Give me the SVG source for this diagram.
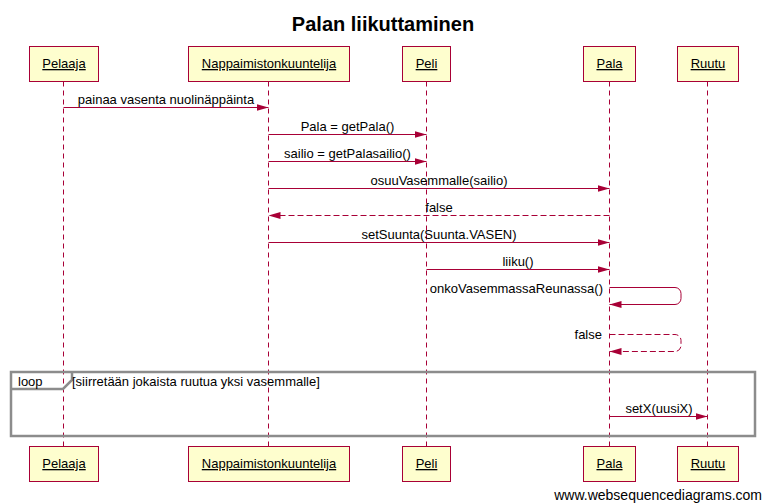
<svg xmlns="http://www.w3.org/2000/svg" width="764" height="503" viewBox="0 0 764 503">
<style>
text{font-family:"Liberation Sans",Arial,sans-serif;font-size:13px;fill:#000}
.title{font-size:20px;font-weight:bold}
.box{fill:#FEFECE;stroke:#A80036;stroke-width:1}
.pname{text-decoration:underline;text-anchor:middle}
.life{stroke:#A80036;stroke-width:1;stroke-dasharray:5,4;fill:none}
.msg{stroke:#A80036;stroke-width:1;fill:none;marker-end:url(#ah)}
.ret{stroke:#A80036;stroke-width:1;fill:none;stroke-dasharray:6,3;marker-end:url(#ah)}
.c{text-anchor:middle}
.r{text-anchor:end}
.frame{fill:none;stroke:#8c8c8c;stroke-width:2.5}
.wm{font-size:14px;text-anchor:end}
</style>
<defs>
<marker id="ah" markerUnits="userSpaceOnUse" markerWidth="13" markerHeight="8" refX="12" refY="3.5" orient="auto">
<path d="M0,0 L12,3.5 L0,7 Z" fill="#A80036"/>
</marker>
</defs>
<rect width="764" height="503" fill="#fff"/>
<text class="title c" x="383" y="31">Palan liikuttaminen</text>

<g id="lifelines">
<line class="life" x1="63.5" y1="81.5" x2="63.5" y2="446.5"/>
<line class="life" x1="268.5" y1="81.5" x2="268.5" y2="446.5"/>
<line class="life" x1="426.5" y1="81.5" x2="426.5" y2="446.5"/>
<line class="life" x1="609.5" y1="81.5" x2="609.5" y2="446.5"/>
<line class="life" x1="707.5" y1="81.5" x2="707.5" y2="446.5"/>
</g>

<g id="Pelaaja">
<rect class="box" x="29.5" y="46.5" width="69" height="35"/>
<text class="pname" x="64" y="68">Pelaaja</text>
<rect class="box" x="29.5" y="446.5" width="69" height="35"/>
<text class="pname" x="64" y="468">Pelaaja</text>
</g>
<g id="Nappaimistonkuuntelija">
<rect class="box" x="188.5" y="46.5" width="161" height="35"/>
<text class="pname" x="269" y="68">Nappaimistonkuuntelija</text>
<rect class="box" x="188.5" y="446.5" width="161" height="35"/>
<text class="pname" x="269" y="468">Nappaimistonkuuntelija</text>
</g>
<g id="Peli">
<rect class="box" x="402.5" y="46.5" width="48" height="35"/>
<text class="pname" x="426.5" y="68">Peli</text>
<rect class="box" x="402.5" y="446.5" width="48" height="35"/>
<text class="pname" x="426.5" y="468">Peli</text>
</g>
<g id="Pala">
<rect class="box" x="583.5" y="46.5" width="52" height="35"/>
<text class="pname" x="609.5" y="68">Pala</text>
<rect class="box" x="583.5" y="446.5" width="52" height="35"/>
<text class="pname" x="609.5" y="468">Pala</text>
</g>
<g id="Ruutu">
<rect class="box" x="677.5" y="46.5" width="61" height="35"/>
<text class="pname" x="708" y="68">Ruutu</text>
<rect class="box" x="677.5" y="446.5" width="61" height="35"/>
<text class="pname" x="708" y="468">Ruutu</text>
</g>

<g id="loop">
<rect class="frame" x="11" y="372" width="744" height="64"/>
<path class="frame" d="M11,389 H63 L72,380 V372"/>
<text x="18" y="386">loop</text>
<text x="72" y="386">[siirretään jokaista ruutua yksi vasemmalle]</text>
</g>

<g id="connectors">
<line class="msg" x1="63.5" y1="107.5" x2="268.5" y2="107.5"/>
<text class="c" x="166" y="104">painaa vasenta nuolinäppäinta</text>
<line class="msg" x1="268.5" y1="134.5" x2="426.5" y2="134.5"/>
<text class="c" x="347.5" y="131">Pala = getPala()</text>
<line class="msg" x1="268.5" y1="161.5" x2="426.5" y2="161.5"/>
<text class="c" x="347.5" y="158">sailio = getPalasailio()</text>
<line class="msg" x1="268.5" y1="188.5" x2="609.5" y2="188.5"/>
<text class="c" x="439" y="185">osuuVasemmalle(sailio)</text>
<line class="ret" x1="609.5" y1="215.5" x2="268.5" y2="215.5"/>
<text class="c" x="439" y="212">false</text>
<line class="msg" x1="268.5" y1="242.5" x2="609.5" y2="242.5"/>
<text class="c" x="439" y="239">setSuunta(Suunta.VASEN)</text>
<line class="msg" x1="426.5" y1="269.5" x2="609.5" y2="269.5"/>
<text class="c" x="518" y="266">liiku()</text>
<path class="msg" d="M609.5,287.5 H675 A6,6 0 0 1 681,293.5 V298.5 A6,6 0 0 1 675,304.5 H609.5"/>
<text class="r" x="603" y="292.5">onkoVasemmassaReunassa()</text>
<path class="ret" d="M609.5,334.5 H675 A6,6 0 0 1 681,340.5 V345.5 A6,6 0 0 1 675,351.5 H609.5"/>
<text class="r" x="602" y="338.5">false</text>
<line class="msg" x1="609.5" y1="416.5" x2="707.5" y2="416.5"/>
<text class="c" x="659" y="413">setX(uusiX)</text>
</g>

<text class="wm" x="762" y="500">www.websequencediagrams.com</text>
</svg>
